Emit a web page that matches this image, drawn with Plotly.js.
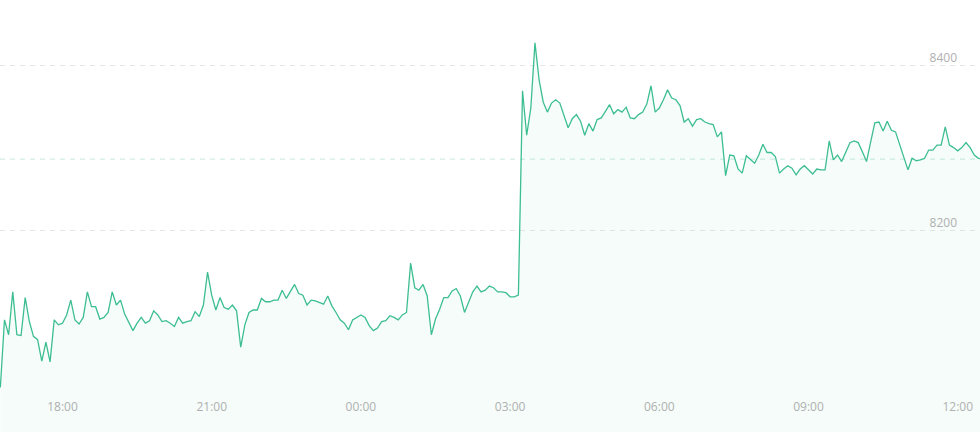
<!DOCTYPE html>
<html>
<head>
<meta charset="utf-8">
<script src="https://cdn.plot.ly/plotly-3.0.1.min.js"></script>
<style>
html,body{margin:0;padding:0;background:#fff;}
#chart{width:980px;height:432px;}
</style>
</head>
<body>
<div id="chart"></div>
<script>
// ---- data ----
const startTimeUTC = [2019, 10, 7, 16, 45]; // first sample: 16:45
const intervalMinutes = 5;
const prices = [
8010,8092,8074,8126,8074,8073,8119,8090,8072,8068,
8042,8065,8041,8092,8086,8088,8098,8116,8092,8087,
8095,8126,8108,8108,8093,8095,8101,8126,8110,8116,
8099,8088,8079,8088,8095,8088,8091,8103,8098,8090,
8091,8088,8084,8095,8088,8090,8091,8102,8096,8110,
8150,8122,8104,8119,8107,8105,8110,8103,8059,8086,
8101,8104,8104,8118,8114,8114,8116,8116,8128,8118,
8126,8135,8124,8122,8110,8116,8115,8113,8111,8121,
8109,8101,8092,8088,8080,8092,8095,8098,8095,8085,
8079,8082,8090,8091,8097,8095,8092,8098,8101,8161,
8131,8128,8135,8121,8074,8093,8105,8119,8119,8127,
8130,8121,8101,8114,8126,8133,8126,8128,8133,8131,
8126,8126,8125,8120,8120,8122,8370,8316,8349,8428,
8383,8356,8344,8355,8359,8355,8341,8325,8336,8341,
8333,8316,8330,8321,8335,8337,8345,8353,8342,8347,
8344,8350,8337,8336,8341,8344,8354,8376,8344,8349,
8359,8371,8361,8359,8352,8332,8336,8327,8335,8336,
8332,8330,8329,8314,8320,8267,8292,8291,8275,8270,
8291,8287,8282,8292,8305,8295,8295,8290,8270,8275,
8279,8276,8268,8275,8279,8274,8269,8275,8274,8274,
8309,8286,8292,8284,8296,8307,8309,8307,8296,8284,
8308,8331,8332,8321,8333,8322,8320,8304,8291,8274,
8288,8285,8286,8288,8298,8298,8304,8304,8326,8304,
8301,8297,8301,8307,8301,8292,8288,8287
];
const xRange = ['2019-11-07 16:44:36', '2019-11-08 12:26:54'];
const xTickVals = ['2019-11-07 18:00','2019-11-07 21:00','2019-11-08 00:00','2019-11-08 03:00','2019-11-08 06:00','2019-11-08 09:00','2019-11-08 12:00'];
const xTickText = ['18:00','21:00','00:00','03:00','06:00','09:00','12:00'];
const yTickVals = [8200, 8400];
const yTickText = ['8200', '8400'];
const yRange = [7956, 8480];

// ---- build timestamps ----
const t0 = Date.UTC.apply(null, startTimeUTC);
const times = prices.map((_, i) =>
  new Date(t0 + i * intervalMinutes * 60000).toISOString().slice(0, 19).replace('T', ' '));
const lastPrice = prices[prices.length - 1];

const lineColor = '#3dbe91';

const trace = {
  type: 'scatter',
  mode: 'lines',
  x: times,
  y: prices,
  line: {color: lineColor, width: 1.3},
  fill: 'tozeroy',
  fillcolor: 'rgba(61,190,145,0.05)',
  hoverinfo: 'x+y'
};

const layout = {
  width: 980, height: 432,
  margin: {l: 0, r: 0, t: 0, b: 0, pad: 0},
  paper_bgcolor: '#ffffff',
  plot_bgcolor: '#ffffff',
  showlegend: false,
  font: {family: 'Open Sans, sans-serif', size: 12, color: '#b0b0b0'},
  xaxis: {
    type: 'date',
    range: xRange,
    tickvals: xTickVals,
    ticktext: xTickText,
    showgrid: false,
    zeroline: false,
    showline: false,
    ticks: '',
    ticklabelposition: 'inside',
    ticklabelstandoff: 16,
    ticklabeloverflow: 'allow',
    tickfont: {family: 'Open Sans, sans-serif', size: 12, color: '#b0b0b0'},
    fixedrange: true
  },
  yaxis: {
    side: 'right',
    range: yRange,
    tickvals: yTickVals,
    ticktext: yTickText,
    showgrid: true,
    gridcolor: '#e6e6e6',
    griddash: '5px,5px',
    gridwidth: 1,
    zeroline: false,
    showline: false,
    ticks: '',
    ticklabelposition: 'inside top',
    ticklabelstandoff: 20,
    ticklabeloverflow: 'allow',
    tickfont: {family: 'Open Sans, sans-serif', size: 12, color: '#b0b0b0'},
    fixedrange: true
  },
  shapes: [{
    type: 'line', xref: 'paper', x0: 0, x1: 1, yref: 'y', y0: lastPrice, y1: lastPrice,
    line: {color: 'rgba(61,190,145,0.3)', width: 1, dash: '5px,5px'},
    layer: 'below'
  }]
};

Plotly.newPlot('chart', [trace], layout, {displayModeBar: false, staticPlot: true});
</script>
</body>
</html>
